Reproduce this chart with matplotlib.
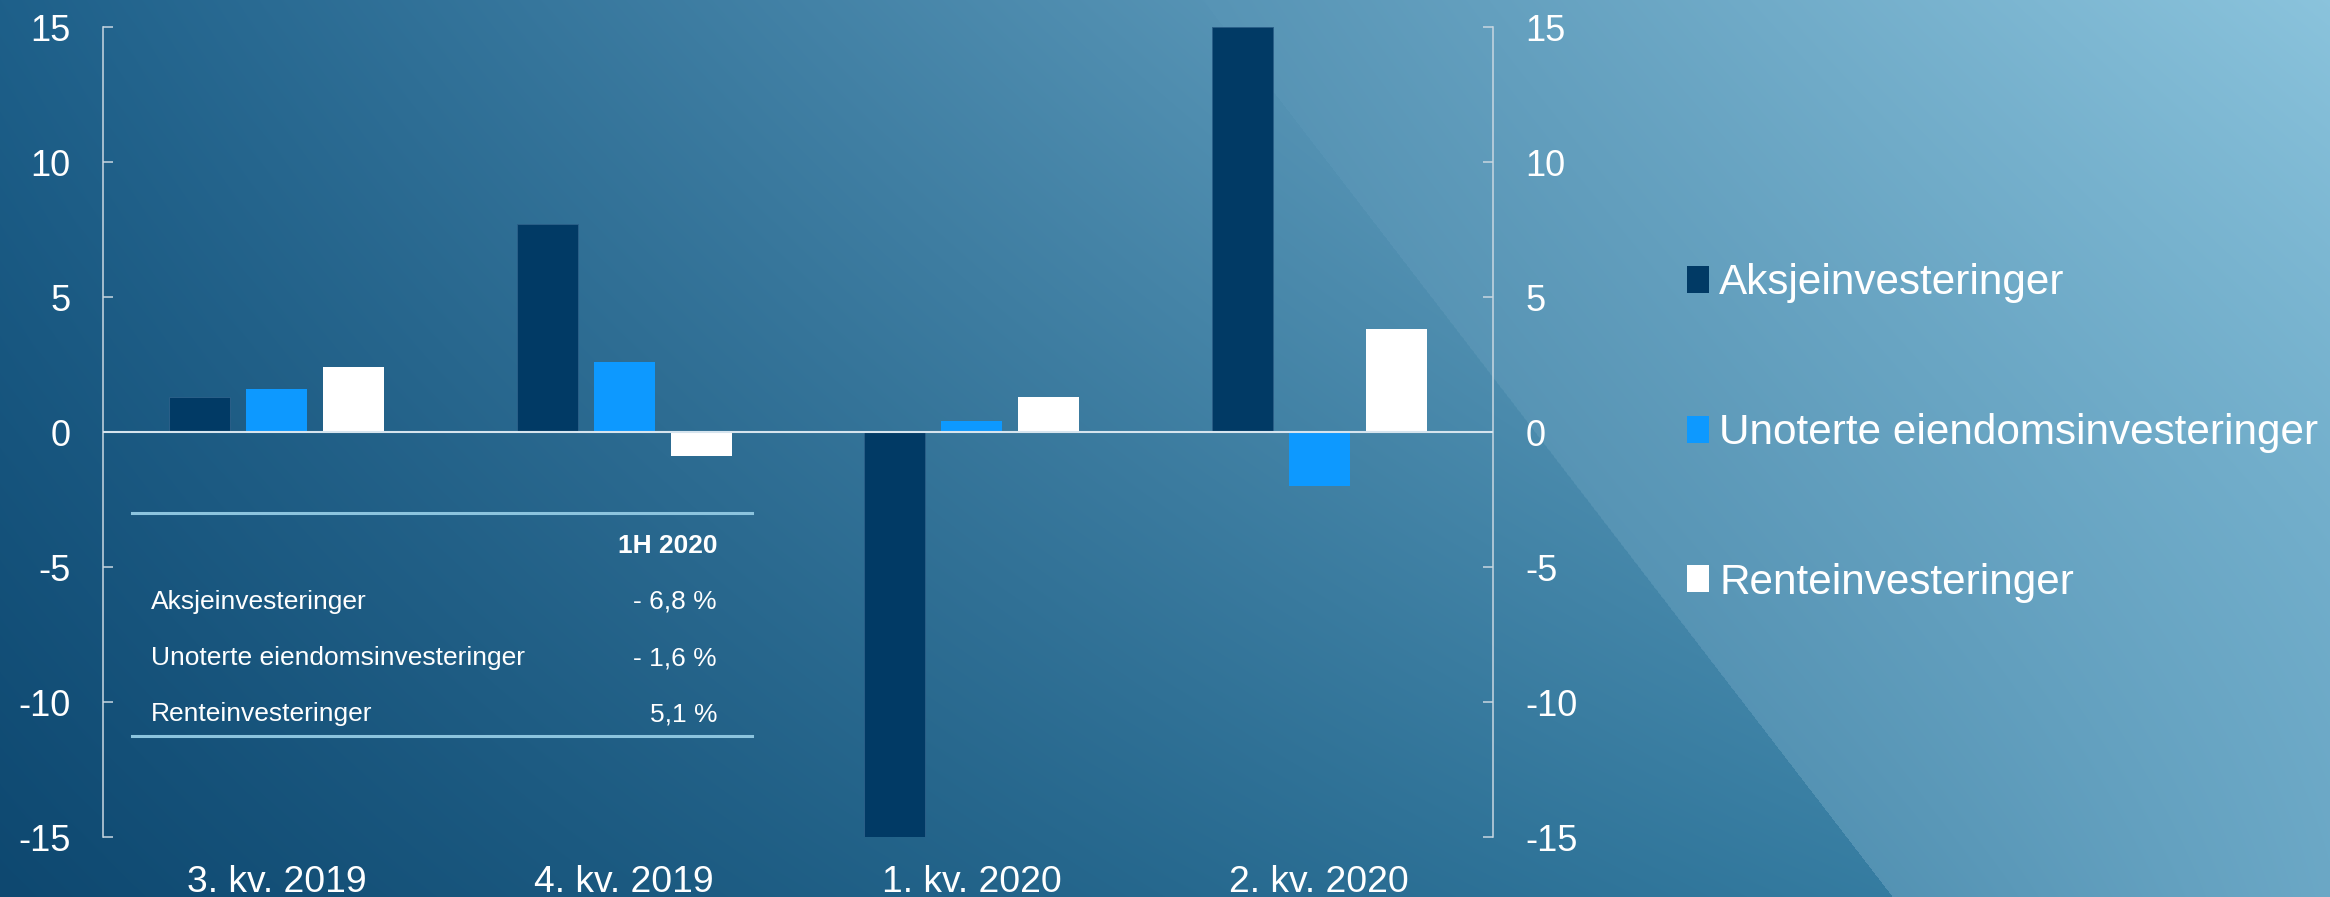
import numpy as np
import matplotlib
matplotlib.use("Agg")
import matplotlib.pyplot as plt
from matplotlib.patches import Patch
from matplotlib.lines import Line2D

plt.rcParams['font.family'] = ['Liberation Sans', 'DejaVu Sans']
plt.rcParams['axes.unicode_minus'] = False

# ---- data ----
categories = ["3. kv. 2019", "4. kv. 2019", "1. kv. 2020", "2. kv. 2020"]
series_names = ["Aksjeinvesteringer", "Unoterte eiendomsinvesteringer", "Renteinvesteringer"]
aksje = [1.3, 7.7, -15.0, 15.0]
unoterte = [1.6, 2.6, 0.4, -2.0]
rente = [2.4, -0.9, 1.3, 3.8]
yticks = [-15, -10, -5, 0, 5, 10, 15]

table_header = "1H 2020"
table_labels = ["Aksjeinvesteringer", "Unoterte eiendomsinvesteringer", "Renteinvesteringer"]
table_values = ["- 6,8 %", "- 1,6 %", "5,1 %"]

colors = ["#013a65", "#0d99ff", "#ffffff"]

W, H = 2330, 897
DPI = 100
fig = plt.figure(figsize=(W / DPI, H / DPI), dpi=DPI)

# ---- background gradient ----
bg = fig.add_axes([0, 0, 1, 1], zorder=-10)
bg.set_axis_off()
xs = np.linspace(0, 1, W)[None, :, None]
vs = np.linspace(1, 0, H)[:, None, None]  # 1 at top row, 0 at bottom row
BL = np.array([14, 72, 112]) / 255
TL = np.array([30, 96, 138]) / 255
BR = np.array([62, 136, 172]) / 255
TR = np.array([138, 195, 220]) / 255
bottom = BL + (BR - BL) * xs
top = TL + (TR - TL) * xs
img = bottom + (top - bottom) * vs
# lighter diagonal overlay on the right, stronger towards the bottom
px = np.arange(W)[None, :]
py = np.arange(H)[:, None]
line_x = 1202 + 0.77 * py
mask = px > line_x
frac = np.clip((px - line_x) / np.maximum(W - line_x, 1), 0, 1)
yy = py / H
alpha = (0.01 + 0.2 * yy + 0.12 * frac * yy)[..., None]
C = np.array([200, 232, 250]) / 255
img = np.where(mask[..., None], img * (1 - alpha) + C * alpha, img)
bg.imshow(np.clip(img, 0, 1), extent=[0, 1, 0, 1], aspect='auto', transform=bg.transAxes)
bg.set_xlim(0, 1); bg.set_ylim(0, 1)

# ---- main axes ----
ax = fig.add_axes([103 / W, 60 / H, (1493 - 103) / W, (837 - 27) / H])
ax.patch.set_alpha(0)
x = np.arange(len(categories))
bw = 0.175
step = 0.222
ax.bar(x - step, aksje, bw, color=colors[0], edgecolor='#2a5f88', linewidth=0.7, label=series_names[0], zorder=3)
ax.bar(x, unoterte, bw, color=colors[1], linewidth=0, label=series_names[1], zorder=3)
ax.bar(x + step, rente, bw, color=colors[2], linewidth=0, label=series_names[2], zorder=3)
ax.axhline(0, color='#d6e4ee', lw=1.5, zorder=4)

ax.set_xlim(-0.5, len(categories) - 0.5)
ax.set_ylim(-15, 15)
ax.set_yticks(yticks)
ax.set_yticklabels([str(v) for v in yticks])
ax.set_xticks(x)
ax.set_xticklabels(categories)
spc = '#c9d7e1'
for s in ['top', 'bottom']:
    ax.spines[s].set_visible(False)
for s in ['left', 'right']:
    ax.spines[s].set_color(spc)
    ax.spines[s].set_linewidth(1.1)
ax.tick_params(axis='y', which='both', direction='in', length=7, width=1.1, color=spc,
               labelsize=26, labelcolor='white', pad=23.5, left=True, right=True,
               labelleft=True, labelright=True)
ax.tick_params(axis='x', length=0, labelsize=26.8, labelcolor='white', pad=39.5)
for t in ax.get_xticklabels():
    t.set_va('baseline')

# ---- table ----
tcol = '#8cc4de'
fig.add_artist(Line2D([132 / W, 752 / W], [1 - 513 / H, 1 - 513 / H], color=tcol, lw=2.2))
fig.add_artist(Line2D([132 / W, 752 / W], [1 - 736 / H, 1 - 736 / H], color=tcol, lw=2.2))
fs_t = 19
fig.text(717 / W, 1 - 553 / H, table_header, color='white', fontsize=fs_t, fontweight='bold',
         ha='right', va='baseline')
for i, (lab, val) in enumerate(zip(table_labels, table_values)):
    yb = 1 - (609 + 56 * i) / H
    fig.text(151 / W, yb, lab, color='white', fontsize=fs_t, ha='left', va='baseline')
    fig.text(717 / W, yb, val, color='white', fontsize=fs_t, ha='right', va='baseline')

# ---- legend ----
handles = [Patch(facecolor=c, edgecolor='none') for c in colors]
leg = fig.legend(handles, series_names, loc='center left', bbox_to_anchor=(1687 / W, 1 - 433 / H),
                 frameon=False, fontsize=30.4, labelcolor='white', handlelength=0.52, handleheight=0.6,
                 handletextpad=0.24, labelspacing=2.6, borderpad=0, borderaxespad=0)

fig.savefig("out.png", dpi=DPI)
